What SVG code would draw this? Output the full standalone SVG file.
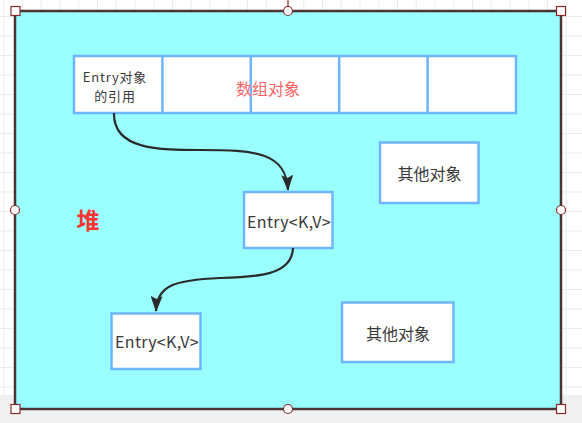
<svg xmlns="http://www.w3.org/2000/svg" width="582" height="423" viewBox="0 0 582 423">
  <style>
    .box { fill: #ffffff; stroke: #6eb5ff; stroke-width: 2.5; }
    .txt { font-family: "Noto Sans CJK SC", "Liberation Sans", sans-serif; fill: #3a3a3a; text-anchor: middle; dominant-baseline: central; }
    .edge { fill: none; stroke: #2b2b2b; stroke-width: 2.2; }
    .handle { fill: #ffffff; stroke: #8b2a2a; stroke-width: 1.2; }
  </style>
  <defs>
    <pattern id="grid" width="18.75" height="19.5" patternUnits="userSpaceOnUse" x="3.25" y="16">
      <path d="M0.5,0 V19.5 M0,0.5 H18.75" fill="none" stroke="#ececec" stroke-width="1"/>
    </pattern>
    <marker id="arrow" viewBox="0 0 16 12" refX="15" refY="6" markerWidth="16" markerHeight="12" markerUnits="userSpaceOnUse" orient="auto">
      <path d="M0,0 L16,6 L0,12 L3,6 Z" fill="#2b2b2b"/>
    </marker>
  </defs>
  <rect x="0" y="0" width="582" height="423" fill="#ffffff"/>
  <rect x="0" y="0" width="582" height="395" fill="url(#grid)"/>
  <rect x="0" y="395" width="582" height="28" fill="#f0f0f0"/>

  <g id="heap">
    <rect x="15" y="11" width="546" height="398" fill="#99ffff" stroke="#4a3636" stroke-width="2.5"/>
    <text x="88" y="219" font-family="Noto Sans CJK SC, sans-serif" font-size="23" font-weight="bold" fill="#ff3333" text-anchor="middle" dominant-baseline="central">堆</text>
  </g>

  <g id="array">
    <rect class="box" x="74" y="56" width="442" height="57"/>
    <line x1="162.4" y1="56" x2="162.4" y2="113" stroke="#6eb5ff" stroke-width="2.5"/>
    <line x1="250.8" y1="56" x2="250.8" y2="113" stroke="#6eb5ff" stroke-width="2.5"/>
    <line x1="339.2" y1="56" x2="339.2" y2="113" stroke="#6eb5ff" stroke-width="2.5"/>
    <line x1="427.6" y1="56" x2="427.6" y2="113" stroke="#6eb5ff" stroke-width="2.5"/>
    <text class="txt" x="115" y="76.5" font-size="13" letter-spacing="0.8">Entry对象</text>
    <text class="txt" x="115" y="95.5" font-size="13" letter-spacing="0.8">的引用</text>
    <text x="268" y="88" font-family="Noto Sans CJK SC, sans-serif" font-size="16" fill="#ff6666" text-anchor="middle" dominant-baseline="central">数组对象</text>
  </g>

  <g id="entry1">
    <rect class="box" x="244" y="192" width="88.5" height="56"/>
    <text class="txt" x="289" y="221" font-size="16" letter-spacing="0.3">Entry&lt;K,V&gt;</text>
  </g>

  <g id="entry2">
    <rect class="box" x="111.5" y="313.5" width="89" height="55.5"/>
    <text class="txt" x="157" y="341" font-size="16" letter-spacing="0.3">Entry&lt;K,V&gt;</text>
  </g>

  <g id="other1">
    <rect class="box" x="380" y="142.5" width="98.5" height="60.5"/>
    <text class="txt" x="429.5" y="173" font-size="16">其他对象</text>
  </g>

  <g id="other2">
    <rect class="box" x="342" y="302.5" width="111.5" height="59.5"/>
    <text class="txt" x="398" y="333" font-size="16">其他对象</text>
  </g>

  <g id="connectors">
    <path class="edge" marker-end="url(#arrow)" d="M114,113 C113,150 160,150 200,150 C255,150 286,152 288,190"/>
    <path class="edge" marker-end="url(#arrow)" d="M293,248 C292,276 255,277 220,278 C175,280 157,285 156,311"/>
  </g>

  <g id="selection">
    <line x1="288" y1="0" x2="288" y2="7" stroke="#8b2a2a" stroke-width="1.2"/>
    <rect class="handle" x="11" y="6.5" width="9" height="9"/>
    <rect class="handle" x="556.5" y="6.5" width="9" height="9"/>
    <rect class="handle" x="11" y="404.5" width="9" height="9"/>
    <rect class="handle" x="556.5" y="404.5" width="9" height="9"/>
    <circle class="handle" cx="288" cy="11" r="4.5"/>
    <circle class="handle" cx="15" cy="210" r="4.5"/>
    <circle class="handle" cx="561" cy="210" r="4.5"/>
    <circle class="handle" cx="288" cy="409" r="4.5"/>
  </g>
</svg>
